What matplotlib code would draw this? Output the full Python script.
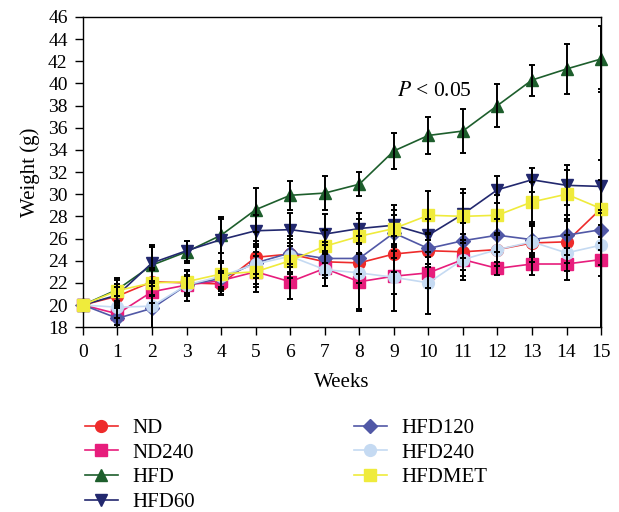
import matplotlib
matplotlib.use('Agg')
import matplotlib.pyplot as plt
import numpy as np

plt.rcParams['font.family'] = ['Liberation Serif', 'DejaVu Serif']
plt.rcParams['mathtext.fontset'] = 'stix'

weeks = list(range(16))
labels = ['ND', 'ND240', 'HFD', 'HFD60', 'HFD120', 'HFD240', 'HFDMET']

nd = [20, 20.8, 22.1, 22.0, 21.9, 24.3, 24.6, 23.9, 23.8, 24.6, 24.9, 24.8, 25.0, 25.6, 25.7, 28.7]
nd240 = [20, 19.2, 21.2, 21.8, 22.2, 23.0, 22.1, 23.3, 22.1, 22.6, 22.9, 24.1, 23.3, 23.7, 23.7, 24.1]
hfd = [20, 21.4, 23.6, 24.8, 26.3, 28.6, 29.9, 30.1, 30.9, 33.9, 35.3, 35.7, 38.0, 40.3, 41.3, 42.2]
hfd60 = [20, 20.9, 23.8, 24.9, 25.9, 26.7, 26.8, 26.4, 26.9, 27.2, 26.3, 28.2, 30.4, 31.3, 30.8, 30.7]
hfd120 = [20, 18.8, 19.7, 21.8, 22.4, 23.8, 24.7, 24.2, 24.2, 26.5, 25.1, 25.8, 26.3, 25.9, 26.3, 26.8]
hfd240 = [20, 19.8, 19.9, 21.8, 22.6, 23.7, 24.4, 23.2, 22.9, 22.5, 22.0, 24.1, 25.0, 25.7, 24.7, 25.4]
hfdmet = [20, 21.3, 22.0, 22.1, 22.8, 23.0, 24.0, 25.3, 26.2, 26.9, 28.1, 28.0, 28.1, 29.3, 30.0, 28.7]

nd_err = [0, 0.8, 1.2, 1.2, 1.0, 1.5, 1.6, 1.5, 1.8, 1.6, 1.5, 1.6, 1.5, 1.7, 1.9, 10.8]
nd240_err = [0, 1.0, 1.0, 0.8, 0.9, 1.8, 1.6, 1.6, 2.6, 1.6, 1.4, 1.5, 0.6, 1.0, 1.4, 1.5]
hfd_err = [0, 1.0, 1.6, 1.0, 1.6, 2.0, 1.3, 1.5, 1.1, 1.6, 1.65, 2.0, 1.9, 1.4, 2.25, 3.0]
hfd60_err = [0, 1.0, 1.6, 0.9, 1.9, 1.4, 1.5, 1.8, 1.4, 1.8, 1.5, 2.3, 1.2, 1.1, 1.8, 2.4]
hfd120_err = [0, 0.9, 2.0, 0.9, 1.4, 1.4, 1.3, 1.5, 1.4, 1.6, 1.4, 1.6, 1.5, 1.4, 1.8, 1.8]
hfd240_err = [0, 1.0, 2.3, 1.4, 1.2, 1.8, 1.6, 1.5, 3.3, 3.0, 2.8, 1.8, 1.5, 1.4, 1.6, 1.8]
hfdmet_err = [0, 1.0, 1.2, 1.0, 1.2, 1.4, 1.6, 1.5, 1.6, 1.7, 2.2, 2.1, 1.8, 1.8, 2.2, 2.6]

series = [nd, nd240, hfd, hfd60, hfd120, hfd240, hfdmet]
errors = [nd_err, nd240_err, hfd_err, hfd60_err, hfd120_err, hfd240_err, hfdmet_err]
colors = ['#ee2b2b', '#e71d7c', '#1d5e2c', '#22286e', '#5158a6', '#c5daf2', '#efeb3c']
markers = ['o', 's', '^', 'v', 'D', 'o', 's']
msizes = [8.5, 8.5, 8.5, 8.5, 7.5, 8.5, 8.5]

fig = plt.figure(figsize=(6.19, 5.12), dpi=100)
ax = fig.add_axes([0.134, 0.361, 0.837, 0.606])

for i in range(len(series)):
    ax.plot(weeks, series[i], color=colors[i], marker=markers[i], markersize=msizes[i],
            linewidth=1.2, label=labels[i], zorder=2 + i * 0.1, clip_on=False)
for i in range(len(series)):
    ax.errorbar(weeks[1:], series[i][1:], yerr=errors[i][1:], fmt='none', ecolor='black',
                elinewidth=1.4, capsize=2.5, capthick=1.4, zorder=3)

ax.text(9.1, 39.3, r'$P$ < 0.05', fontsize=15.5, va='center', ha='left')

ax.set_xlim(0, 15)
ax.set_ylim(18, 46)
ax.set_xticks(weeks)
ax.set_yticks(range(18, 47, 2))
ax.tick_params(axis='both', labelsize=14, length=6, width=1, direction='out')
ax.tick_params(axis='x', pad=6)
ax.tick_params(axis='y', pad=5)
for sp in ax.spines.values():
    sp.set_linewidth(1.0)
ax.set_xlabel('Weeks', fontsize=15, labelpad=9)
ax.set_ylabel('Weight (g)', fontsize=15, labelpad=6)

fig.legend(loc='upper left', bbox_to_anchor=(0.137, 0.183), ncol=2, frameon=False,
           fontsize=15, handlelength=1.6, handletextpad=0.7, labelspacing=0.25,
           columnspacing=7.6, borderpad=0, borderaxespad=0)

plt.savefig('out.png', dpi=100)
plt.close()
